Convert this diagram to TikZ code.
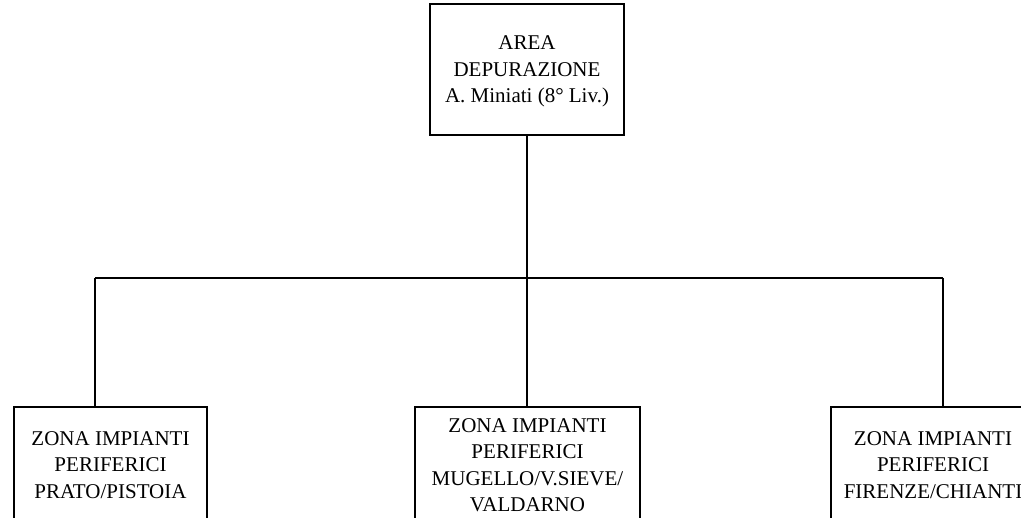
\documentclass[tikz,border=0pt]{standalone}
\usepackage{fontspec}
\setmainfont{Liberation Serif}
\usetikzlibrary{positioning}

\tikzset{
  unitbox/.style={draw, line width=1.6pt, align=center, inner sep=2pt,
    font=\fontsize{21}{26.5}\selectfont},
  link/.style={line width=1.6pt}
}

\begin{document}
\begin{tikzpicture}[x=1pt, y=-1pt]
% Page frame (clips the lower boxes as in the original)
\clip (0,0) rectangle (1021,518);

% Head unit
\node[unitbox, minimum width=194pt, minimum height=131pt, text depth=-7pt] (area) at (527,69.5)
  {AREA\\DEPURAZIONE\\A. Miniati (8° Liv.)};

% Peripheral zones
\node[unitbox, minimum width=193pt, minimum height=116pt] (prato) at (110.5,465)
  {ZONA IMPIANTI\\PERIFERICI\\PRATO/PISTOIA};
\node[unitbox, minimum width=225pt, minimum height=116pt] (mugello) at (527.5,465)
  {ZONA IMPIANTI\\PERIFERICI\\MUGELLO/V.SIEVE/\\VALDARNO};
\node[unitbox, minimum width=204pt, minimum height=116pt] (firenze) at (933,465)
  {ZONA IMPIANTI\\PERIFERICI\\FIRENZE/CHIANTI};

% Bus ends
\coordinate (busL) at (95,278);
\coordinate (busR) at (943,278);

% Connectors
\draw[link] (area.south) -- (area.south |- busL);
\draw[link] (busL) -- (busR);
\draw[link] (busL) -- (busL |- prato.north);
\draw[link] (area.south |- busL) -- (mugello.north -| area.south);
\draw[link] (busR) -- (busR |- firenze.north);
\end{tikzpicture}
\end{document}
